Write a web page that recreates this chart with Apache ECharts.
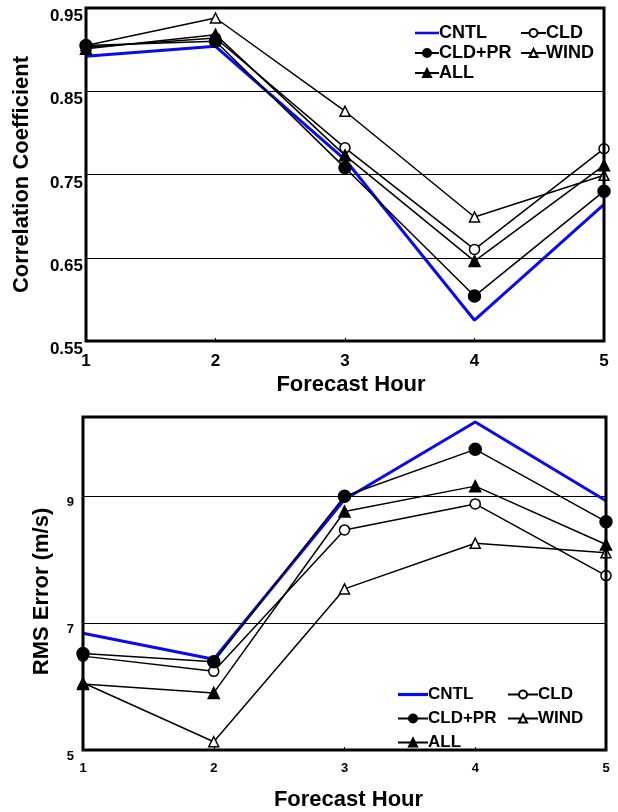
<!DOCTYPE html>
<html>
<head>
<meta charset="utf-8">
<script src="https://cdn.jsdelivr.net/npm/echarts@6/dist/echarts.min.js"></script>
<style>
html, body { margin: 0; padding: 0; background: #fff; }
#chart { width: 618px; height: 812px; }
</style>
</head>
<body>
<div id="chart"></div>
<script>
var hours = [1, 2, 3, 4, 5];

// correlation coefficient (top panel)
var corrCNTL = [0.892, 0.904, 0.768, 0.575, 0.714];
var corrCLD = [0.903, 0.914, 0.782, 0.660, 0.781];
var corrCLDPR = [0.905, 0.910, 0.758, 0.604, 0.730];
var corrWIND = [0.905, 0.938, 0.826, 0.699, 0.749];
var corrALL = [0.901, 0.918, 0.773, 0.646, 0.761];

// rms error (bottom panel)
var rmsCNTL = [6.84, 6.43, 8.95, 10.17, 8.93];
var rmsCLD = [6.48, 6.24, 8.47, 8.88, 7.75];
var rmsCLDPR = [6.52, 6.39, 9.00, 9.74, 8.60];
var rmsWIND = [6.06, 5.13, 7.54, 8.26, 8.11];
var rmsALL = [6.04, 5.90, 8.76, 9.16, 8.24];

var font = '"Liberation Sans", Arial, sans-serif';

function pairs(vals) {
    return hours.map(function(h, i) { return [h, vals[i]]; });
}

function mkSeries(name, vals, idx) {
    var s = {
        name: name,
        type: 'line',
        xAxisIndex: idx,
        yAxisIndex: idx,
        data: pairs(vals),
        lineStyle: { color: '#000', width: 1.5 },
        itemStyle: { color: '#000', borderColor: '#000', borderWidth: 1.5 },
        symbolSize: 10,
        z: 3
    };
    if (name === 'CNTL') {
        s.lineStyle = { color: '#0a0af0', width: 3 };
        s.itemStyle = { color: '#0a0af0' };
        s.symbol = 'none';
        s.z = 2;
    } else if (name === 'CLD') {
        s.symbol = 'circle';
        s.itemStyle.color = '#fff';
    } else if (name === 'CLD+PR') {
        s.symbol = 'circle';
        s.symbolSize = 12;
    } else if (name === 'WIND') {
        s.symbol = 'triangle';
        s.itemStyle.color = '#fff';
    } else {
        s.symbol = 'triangle';
        s.symbolSize = 11;
    }
    return s;
}

//图例：两列，CNTL 只画一条线
function mkLegend(names, left, top, size, gap, w) {
    return {
        data: names.map(function(n) {
            return n === 'CNTL' ? { name: n, icon: 'path://M0,0 L30,0 L30,3.2 L0,3.2 Z' } : { name: n };
        }),
        orient: 'vertical',
        left: left,
        top: top,
        padding: 0,
        itemWidth: w,
        itemHeight: 10,
        itemGap: gap,
        selectedMode: false,
        textStyle: { fontFamily: font, fontWeight: 'bold', fontSize: size, color: '#000', padding: [0, 0, 0, -5] }
    };
}

var myChart = echarts.init(document.getElementById('chart'));

var option = {
    animation: false,
    backgroundColor: '#fff',
    grid: [
        { left: 86, right: 14, top: 8, height: 333, show: true, borderColor: '#000', borderWidth: 3, backgroundColor: 'transparent', z: 5 },
        { left: 83, right: 12, top: 417, height: 336, show: true, borderColor: '#000', borderWidth: 3, backgroundColor: 'transparent', z: 5 }
    ],
    legend: [
        mkLegend(['CNTL', 'CLD+PR', 'ALL'], 414, 24, 18, 2, 24),
        mkLegend(['CLD', 'WIND'], 520, 24, 18, 2, 25),
        mkLegend(['CNTL', 'CLD+PR', 'ALL'], 397, 686, 17, 7, 30),
        mkLegend(['CLD', 'WIND'], 507, 686, 17, 7, 30)
    ],
    xAxis: [{
        type: 'value',
        gridIndex: 0,
        min: 1,
        max: 5,
        interval: 1,
        name: 'Forecast Hour',
        nameLocation: 'middle',
        nameGap: 33,
        nameTextStyle: { fontFamily: font, fontWeight: 'bold', fontSize: 22, color: '#000', padding: [0, 0, 0, 12] },
        axisLine: { show: false },
        axisTick: { inside: true, length: 3, lineStyle: { color: '#000' } },
        splitLine: { show: false },
        axisLabel: { fontFamily: font, fontWeight: 'bold', fontSize: 17, color: '#000', margin: 12 }
    }, {
        type: 'value',
        gridIndex: 1,
        min: 1,
        max: 5,
        interval: 1,
        name: 'Forecast Hour',
        nameLocation: 'middle',
        nameGap: 39,
        nameTextStyle: { fontFamily: font, fontWeight: 'bold', fontSize: 22, color: '#000', padding: [0, 0, 0, 8] },
        axisLine: { show: false },
        axisTick: { inside: true, length: 3, lineStyle: { color: '#000' } },
        splitLine: { show: false },
        axisLabel: { fontFamily: font, fontWeight: 'bold', fontSize: 13, color: '#000', margin: 12 }
    }],
    yAxis: [{
        type: 'value',
        gridIndex: 0,
        min: 0.55,
        max: 0.95,
        interval: 0.1,
        name: 'Correlation Coefficient',
        nameLocation: 'middle',
        nameGap: 53,
        nameTextStyle: { fontFamily: font, fontWeight: 'bold', fontSize: 22, color: '#000' },
        axisLine: { show: false },
        axisTick: { show: false },
        splitLine: { lineStyle: { color: '#000', width: 1.2 } },
        axisLabel: {
            fontFamily: font, fontWeight: 'bold', fontSize: 17, color: '#000', margin: 3,
            verticalAlign: 'top',
            formatter: function(v) { return v.toFixed(2); }
        }
    }, {
        type: 'value',
        gridIndex: 1,
        min: 5,
        max: 10.25,
        interval: 2,
        name: 'RMS Error (m/s)',
        nameLocation: 'middle',
        nameGap: 30,
        nameTextStyle: { fontFamily: font, fontWeight: 'bold', fontSize: 22, color: '#000', padding: [0, 16, 0, 0] },
        axisLine: { show: false },
        axisTick: { show: false },
        splitLine: { lineStyle: { color: '#000', width: 1.2 } },
        axisLabel: {
            fontFamily: font, fontWeight: 'bold', fontSize: 13, color: '#000', margin: 9,
            verticalAlign: 'top', showMaxLabel: false,
            formatter: function(v) { return v % 1 === 0 ? String(v) : ''; }
        }
    }],
    series: [
        mkSeries('CNTL', corrCNTL, 0),
        mkSeries('CLD', corrCLD, 0),
        mkSeries('CLD+PR', corrCLDPR, 0),
        mkSeries('WIND', corrWIND, 0),
        mkSeries('ALL', corrALL, 0),
        mkSeries('CNTL', rmsCNTL, 1),
        mkSeries('CLD', rmsCLD, 1),
        mkSeries('CLD+PR', rmsCLDPR, 1),
        mkSeries('WIND', rmsWIND, 1),
        mkSeries('ALL', rmsALL, 1)
    ]
};
myChart.setOption(option);
</script>
</body>
</html>
